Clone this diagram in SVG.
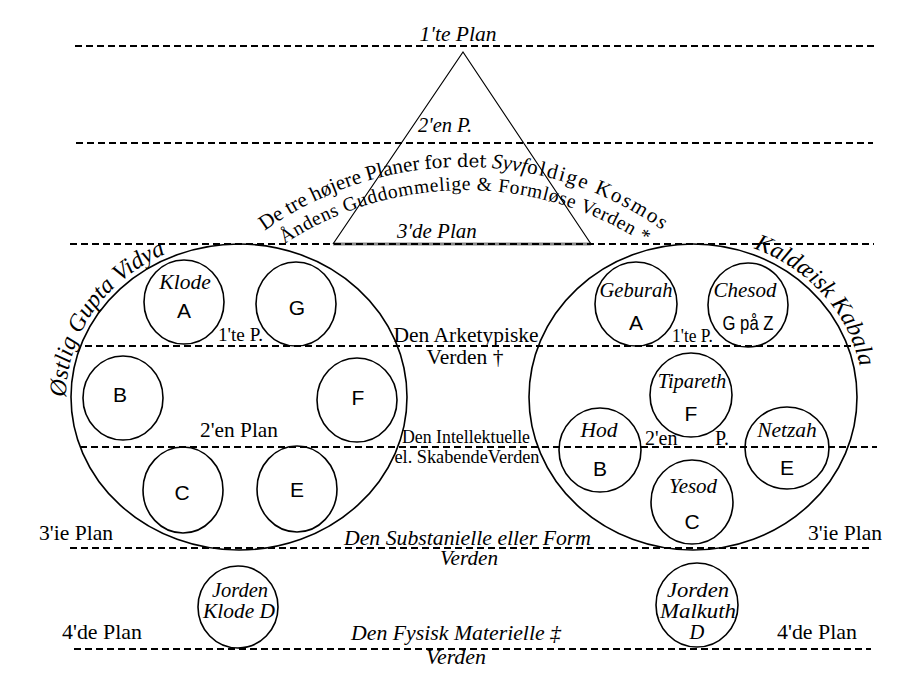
<svg xmlns="http://www.w3.org/2000/svg" width="924" height="698" viewBox="0 0 924 698">
<style>
.dash{stroke:#000;stroke-width:2;stroke-dasharray:7 4;fill:none}
.ring{fill:none;stroke:#000;stroke-width:1.6}
.big{fill:none;stroke:#000;stroke-width:1.6}
.it{font-family:'Liberation Serif','Times New Roman',serif;font-style:italic;fill:#000}
.rm{font-family:'Liberation Serif','Times New Roman',serif;fill:#000}
.sf{font-family:'Liberation Sans',Arial,sans-serif;fill:#000;font-size:21px}
.c{text-anchor:middle}
</style>
<defs>
<path id="arcOuter" d="M 121 510 A 343 343 0 0 1 807 510"/>
<path id="arcInner" d="M 135 520 A 330 330 0 0 1 795 520"/>
<path id="arcLeft" d="M 66 399 A 173 158 0 0 1 239 239"/>
<path id="arcRight" d="M 693 238 A 170 159 0 0 1 863 397"/>
</defs>
<rect width="924" height="698" fill="#fff"/>

<g id="planes">
<line class="dash" x1="75" y1="46" x2="876" y2="46"/>
<line class="dash" x1="76" y1="143" x2="873" y2="143"/>
<line x1="333" y1="244" x2="591" y2="244" stroke="#888" stroke-width="3"/>
<line class="dash" x1="70" y1="244" x2="874" y2="244"/>
<line class="dash" x1="85" y1="346" x2="852" y2="346"/>
<line class="dash" x1="80" y1="447" x2="877" y2="447"/>
<line class="dash" x1="70" y1="548" x2="871" y2="548"/>
<line class="dash" x1="74" y1="649" x2="871" y2="649"/>
</g>

<g id="triangle">
<polyline points="333,244 463,52 591,244" fill="none" stroke="#000" stroke-width="1.2"/>
</g>

<g id="top-labels">
<text class="it c" x="458" y="41" font-size="21.5">1'te Plan</text>
<text class="it" x="418" y="132" font-size="20.5">2'en P.</text>
<text class="it" x="397" y="238" font-size="21">3'de Plan</text>
<text class="rm" font-size="21"><textPath href="#arcOuter" startOffset="50%" text-anchor="middle">De tre højere Planer <tspan font-family="DejaVu Serif, serif" font-size="18">for det</tspan> <tspan font-style="italic">Syvf</tspan><tspan letter-spacing="1.8">oldige Kosmos</tspan></textPath></text>
<text class="rm" font-size="19.5" letter-spacing="0.6"><textPath href="#arcInner" startOffset="50%" text-anchor="middle">Åndens Guddommelige &amp; Formløse Verden *</textPath></text>
</g>

<g id="left-sphere">
<ellipse class="big" cx="239" cy="397" rx="168" ry="153"/>
<text class="it" font-size="24"><textPath href="#arcLeft" startOffset="2">Østlig Gupta Vidya</textPath></text>
</g>
<g id="left-A"><ellipse class="ring" cx="184" cy="302" rx="40" ry="42"/><text class="it c" x="185" y="289" font-size="21.5">Klode</text><text class="sf c" x="184" y="318">A</text></g>
<g id="left-G"><ellipse class="ring" cx="296" cy="304" rx="40" ry="42"/><text class="sf c" x="297" y="315">G</text></g>
<g id="left-B"><ellipse class="ring" cx="123" cy="398" rx="40" ry="42"/><text class="sf c" x="120" y="402">B</text></g>
<g id="left-F"><ellipse class="ring" cx="357" cy="400" rx="40" ry="42"/><text class="sf c" x="358" y="405">F</text></g>
<g id="left-C"><ellipse class="ring" cx="183" cy="490" rx="40" ry="43"/><text class="sf c" x="182" y="500">C</text></g>
<g id="left-E"><ellipse class="ring" cx="297" cy="489" rx="40" ry="43"/><text class="sf c" x="297" y="497">E</text></g>
<g id="left-labels">
<text class="rm" x="218" y="341" font-size="19" textLength="45" lengthAdjust="spacingAndGlyphs">1'te P.</text>
<text class="rm" x="200" y="437" font-size="21.5" textLength="78" lengthAdjust="spacingAndGlyphs">2'en Plan</text>
</g>

<g id="middle-labels">
<text class="rm c" x="466" y="342" font-size="21.5">Den Arketypiske</text>
<text class="rm c" x="465" y="364" font-size="21.5">Verden †</text>
<text class="rm c" x="466" y="443" font-size="18" textLength="128" lengthAdjust="spacingAndGlyphs">Den Intellektuelle</text>
<text class="rm c" x="467" y="463" font-size="18" textLength="145" lengthAdjust="spacingAndGlyphs">el. SkabendeVerden</text>
</g>

<g id="right-sphere">
<ellipse class="big" cx="693" cy="397" rx="164" ry="153"/>
<text class="it" font-size="24"><textPath href="#arcRight" startOffset="62">Kaldæisk Kabala</textPath></text>
</g>
<g id="right-A"><ellipse class="ring" cx="636" cy="304" rx="41" ry="42"/><text class="it c" x="636" y="297" font-size="20.5">Geburah</text><text class="sf c" x="636" y="330">A</text></g>
<g id="right-G"><ellipse class="ring" cx="748" cy="305" rx="40" ry="42"/><text class="it c" x="745" y="297" font-size="21">Chesod</text><text class="sf c" x="748" y="330" font-size="19" textLength="51" lengthAdjust="spacingAndGlyphs">G på Z</text></g>
<g id="right-F"><ellipse class="ring" cx="691" cy="395" rx="41" ry="42"/><text class="it c" x="692" y="388" font-size="20.5">Tipareth</text><text class="sf c" x="691" y="421">F</text></g>
<g id="right-B"><ellipse class="ring" cx="600" cy="450" rx="41" ry="42"/><text class="it c" x="599" y="437" font-size="21.5">Hod</text><text class="sf c" x="600" y="476">B</text></g>
<g id="right-E"><ellipse class="ring" cx="787" cy="448" rx="42" ry="41"/><text class="it c" x="787" y="437" font-size="21.5">Netzah</text><text class="sf c" x="787" y="475">E</text></g>
<g id="right-C"><ellipse class="ring" cx="692" cy="502" rx="41" ry="42"/><text class="it c" x="693" y="493" font-size="21">Yesod</text><text class="sf c" x="692" y="529">C</text></g>
<g id="right-labels">
<text class="rm" x="672" y="342" font-size="19" textLength="41" lengthAdjust="spacingAndGlyphs">1'te P.</text>
<text class="rm" x="645" y="445" font-size="20">2'en</text>
<text class="rm" x="715" y="445" font-size="20">P.</text>
</g>

<g id="lower-labels">
<text class="rm" x="39" y="540" font-size="21" textLength="74" lengthAdjust="spacingAndGlyphs">3'ie Plan</text>
<text class="rm" x="808" y="540" font-size="21" textLength="74" lengthAdjust="spacingAndGlyphs">3'ie Plan</text>
<text class="it" x="344" y="545" font-size="21" textLength="247" lengthAdjust="spacingAndGlyphs">Den Substanielle eller Form</text>
<text class="it c" x="469" y="565" font-size="21" textLength="58" lengthAdjust="spacingAndGlyphs">Verden</text>
<text class="rm" x="62" y="639" font-size="21" textLength="80" lengthAdjust="spacingAndGlyphs">4'de Plan</text>
<text class="rm" x="777" y="639" font-size="21" textLength="80" lengthAdjust="spacingAndGlyphs">4'de Plan</text>
<text class="it" x="351" y="640" font-size="21" textLength="210" lengthAdjust="spacingAndGlyphs">Den Fysisk Materielle ‡</text>
<text class="it c" x="456" y="664" font-size="21" textLength="60" lengthAdjust="spacingAndGlyphs">Verden</text>
</g>

<g id="left-D"><ellipse class="ring" cx="238" cy="607" rx="40" ry="41"/><text class="it c" x="240" y="597" font-size="20.5">Jorden</text><text class="it c" x="239" y="618" font-size="20.5" textLength="72" lengthAdjust="spacingAndGlyphs">Klode D</text></g>
<g id="right-D"><ellipse class="ring" cx="697" cy="605" rx="41" ry="42"/><text class="it c" x="698" y="597" font-size="20.5" textLength="62" lengthAdjust="spacingAndGlyphs">Jorden</text><text class="it c" x="698" y="618" font-size="20.5" textLength="76" lengthAdjust="spacingAndGlyphs">Malkuth</text><text class="it c" x="697" y="639" font-size="20.5">D</text></g>
</svg>
